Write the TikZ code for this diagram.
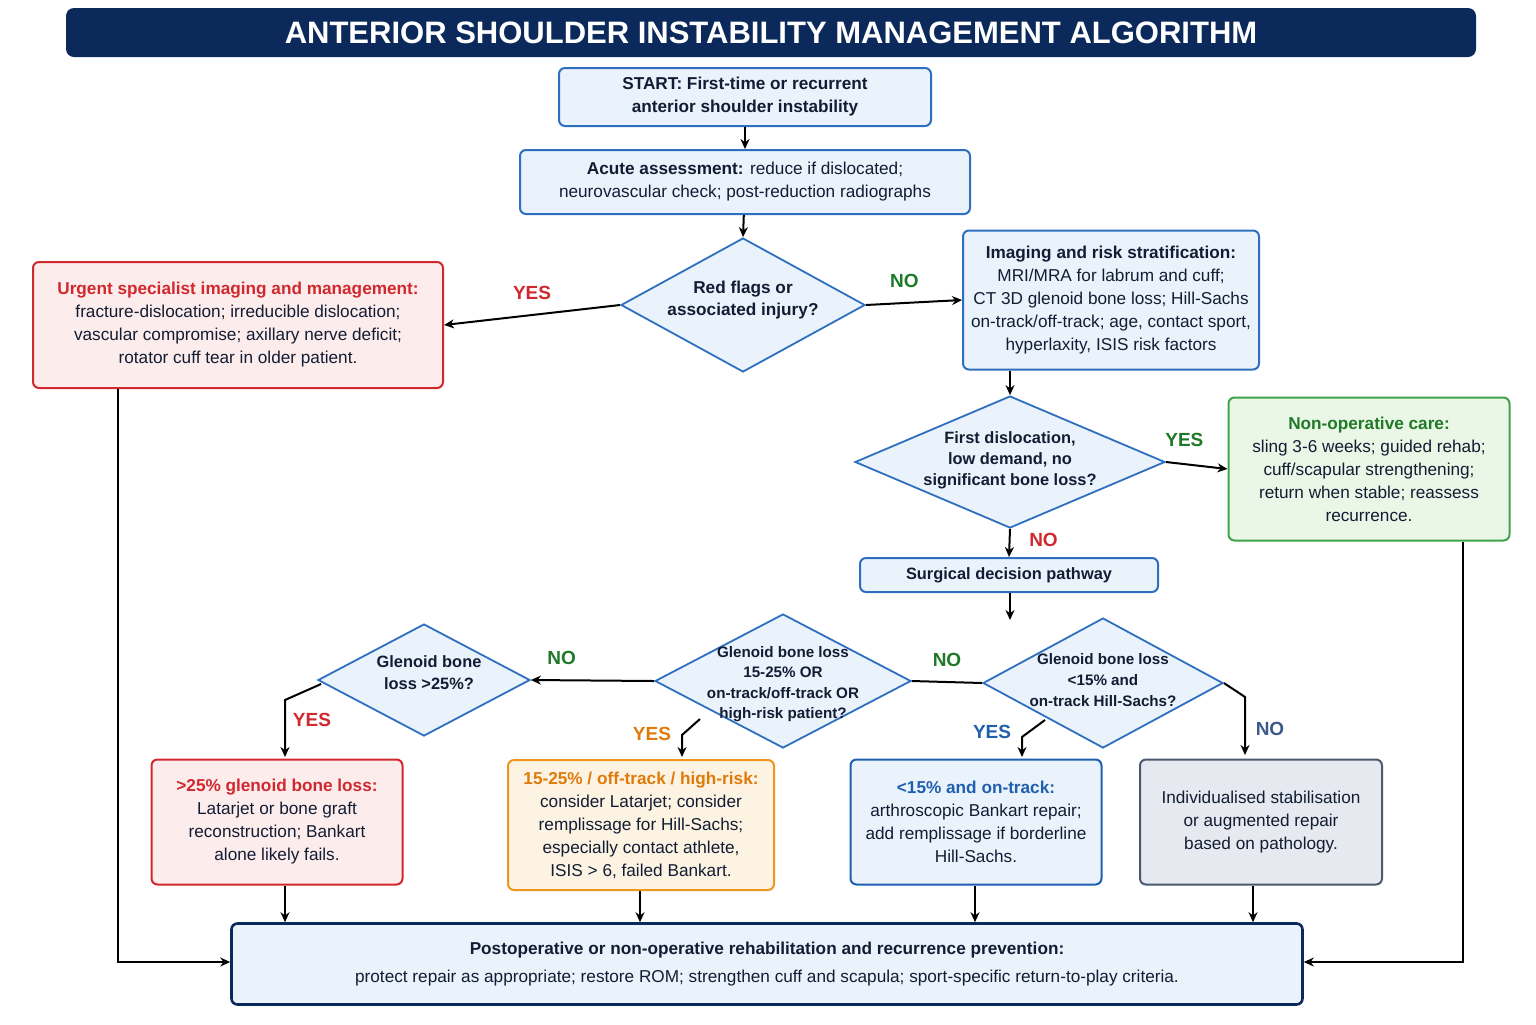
\documentclass[tikz,border=0pt]{standalone}
\usepackage{fontspec}
\setmainfont{Liberation Sans}
\usetikzlibrary{shapes.geometric,arrows.meta,calc}
\definecolor{navy}{HTML}{0B2A5B}
\definecolor{ink}{HTML}{121D33}
\definecolor{bfill}{HTML}{EAF3FC}
\definecolor{bline}{HTML}{2E6FC0}
\definecolor{rfill}{HTML}{FDECEC}
\definecolor{rline}{HTML}{D0282E}
\definecolor{gfill}{HTML}{EAF6E6}
\definecolor{gline}{HTML}{3FA34D}
\definecolor{gtext}{HTML}{1E7A26}
\definecolor{ofill}{HTML}{FDF3E3}
\definecolor{oline}{HTML}{F0961E}
\definecolor{otext}{HTML}{E07A0A}
\definecolor{dblue}{HTML}{1F5FAF}
\definecolor{grfill}{HTML}{E6E9EF}
\definecolor{grline}{HTML}{4A5870}
\definecolor{nolab}{HTML}{3A5A8A}
\begin{document}
\begin{tikzpicture}[x=0.5pt,y=-0.5pt,
  box/.style={rectangle,rounded corners=3pt,line width=1pt,draw=bline,fill=bfill,align=center,text=ink,font=\fontsize{8.6}{11.5}\selectfont,inner sep=2pt},
  dia/.style={diamond,draw=bline,fill=bfill,line width=0.9pt,inner sep=0pt},
  dtxt/.style={align=center,text=ink,font=\fontsize{8.6}{11}\selectfont\bfseries},
  stxt/.style={align=center,text=ink,font=\fontsize{7.6}{10.3}\selectfont\bfseries},
  arr/.style={line width=1pt,-{Stealth[length=5pt,width=4.5pt]},draw=black},
  ln/.style={line width=1pt,draw=black},
  lab/.style={font=\fontsize{9.5}{11}\selectfont\bfseries}]
\useasboundingbox (0,0) rectangle (1536,1024);
\fill[white] (0,0) rectangle (1536,1024);
\node[rectangle,rounded corners=4pt,fill=navy,minimum width=705pt,minimum height=24.5pt,text=white,font=\fontsize{15.5}{18}\selectfont\bfseries] (title) at (771,32.5) {ANTERIOR SHOULDER INSTABILITY MANAGEMENT ALGORITHM};

\node[box,minimum width=186pt,minimum height=29pt,font=\fontsize{8.6}{11.5}\selectfont\bfseries] (start) at (745,97) {START: First-time or recurrent\\anterior shoulder instability};
\node[box,minimum width=225pt,minimum height=32pt] (acute) at (745,182) {\textbf{Acute assessment:} reduce if dislocated;\\neurovascular check; post-reduction radiographs};
\node[dia,minimum width=122pt,minimum height=67pt] (d1) at (743,305) {};
\node[dtxt] at (743,300) {Red flags or\\associated injury?};
\node[box,draw=rline,fill=rfill,minimum width=205pt,minimum height=63pt] (urg) at (238,325) {\textcolor{rline}{\textbf{Urgent specialist imaging and management:}}\\fracture-dislocation; irreducible dislocation;\\vascular compromise; axillary nerve deficit;\\rotator cuff tear in older patient.};
\node[box,minimum width=148pt,minimum height=69.5pt] (img) at (1111,300) {\textbf{Imaging and risk stratification:}\\MRI/MRA for labrum and cuff;\\CT 3D glenoid bone loss; Hill-Sachs\\on-track/off-track; age, contact sport,\\hyperlaxity, ISIS risk factors};
\node[dia,minimum width=155pt,minimum height=66pt] (d5) at (1010,462) {};
\node[stxt,font=\fontsize{8.2}{10.5}\selectfont\bfseries] at (1010,460) {First dislocation,\\low demand, no\\significant bone loss?};
\node[box,draw=gline,fill=gfill,minimum width=140.5pt,minimum height=71.5pt] (nonop) at (1369,469) {\textcolor{gtext}{\textbf{Non-operative care:}}\\sling 3-6 weeks; guided rehab;\\cuff/scapular strengthening;\\return when stable; reassess\\recurrence.};
\node[box,minimum width=149pt,minimum height=17pt,font=\fontsize{8.2}{10}\selectfont\bfseries] (surg) at (1009,575) {Surgical decision pathway};
\coordinate (sg) at (1010,620);
\node[dia,minimum width=128pt,minimum height=67pt] (d3) at (783,681) {};
\node[stxt] at (783,684) {Glenoid bone loss\\15-25\% OR\\on-track/off-track OR\\high-risk patient?};
\node[dia,minimum width=106pt,minimum height=56pt] (d2) at (424,680) {};
\node[dtxt,font=\fontsize{8.2}{11}\selectfont\bfseries] at (429,673) {Glenoid bone\\loss >25\%?};
\node[dia,minimum width=120pt,minimum height=65pt] (d4) at (1103,683) {};
\node[stxt] at (1103,680) {Glenoid bone loss\\<15\% and\\on-track Hill-Sachs?};

\node[box,draw=rline,fill=rfill,minimum width=125.5pt,minimum height=62.5pt] (b1) at (277,822) {\textcolor{rline}{\textbf{>25\% glenoid bone loss:}}\\Latarjet or bone graft\\reconstruction; Bankart\\alone likely fails.};
\node[box,draw=oline,fill=ofill,minimum width=133pt,minimum height=65pt] (b2) at (641,825) {\textcolor{otext}{\textbf{15-25\% / off-track / high-risk:}}\\consider Latarjet; consider\\remplissage for Hill-Sachs;\\especially contact athlete,\\ISIS > 6, failed Bankart.};
\node[box,draw=dblue,minimum width=125.5pt,minimum height=62.5pt] (b3) at (976,822) {\textcolor{dblue}{\textbf{<15\% and on-track:}}\\arthroscopic Bankart repair;\\add remplissage if borderline\\Hill-Sachs.};
\node[box,draw=grline,fill=grfill,minimum width=121pt,minimum height=62.5pt] (b4) at (1261,822) {Individualised stabilisation\\or augmented repair\\based on pathology.};
\node[box,draw=navy,line width=1.3pt,minimum width=535.5pt,minimum height=40.5pt,font=\fontsize{8.6}{14}\selectfont] (post) at (767,964) {\textbf{Postoperative or non-operative rehabilitation and recurrence prevention:}\\protect repair as appropriate; restore ROM; strengthen cuff and scapula; sport-specific return-to-play criteria.};

\coordinate (xl) at (118,962);
\coordinate (xr) at (1463,962);
\coordinate (x1) at (285,0);
\coordinate (x2) at (640,0);
\coordinate (x3) at (975,0);
\coordinate (x4) at (1253,0);

\draw[arr] (start) -- (acute);
\draw[arr] (acute) -- (d1.north);
\draw[arr] (d1.west) -- (urg.east) node[lab,text=rline,pos=0.5,above=4pt] {YES};
\draw[arr] (d1.east) -- (img.west) node[lab,text=gtext,pos=0.4,above=4pt] {NO};
\draw[arr] (img.south -| d5.north) -- (d5.north);
\draw[arr] (d5.east) -- (nonop.west) node[lab,text=gtext,pos=0.3,above=5pt] {YES};
\draw[arr] (d5.south) -- (surg.north) node[lab,text=rline,pos=0.4,right=6pt] {NO};
\draw[arr] (surg.south -| sg) -- (sg);
\draw[arr] (d3.west) -- (d2.east) node[lab,text=gtext,pos=0.75,above=4pt] {NO};
\draw[ln] (d3.east) -- (d4.west) node[lab,text=gtext,pos=0.5,above=4pt] {NO};
\draw[arr] ($(d2.west)+(4,4)$) -- (285,700) -- (285,757);
\node[lab,text=rline] at (312,720) {YES};
\draw[arr] ($(d3.center)+(-83,38)$) -- (682,735) -- (682,757);
\node[lab,text=otext] at (652,734) {YES};
\draw[arr] ($(d4.center)+(-58,37)$) -- (1022,737) -- (1022,757);
\node[lab,text=dblue] at (992,732) {YES};
\draw[arr] (d4.east) -- (1245,697) -- (1245,755);
\node[lab,text=nolab] at (1270,729) {NO};
\draw[arr] (urg.south -| xl) -- (xl) -- (post.west |- xl);
\draw[arr] (nonop.south -| xr) -- (xr) -- (post.east |- xr);
\draw[arr] (b1.south -| x1) -- (post.north -| x1);
\draw[arr] (b2.south -| x2) -- (post.north -| x2);
\draw[arr] (b3.south -| x3) -- (post.north -| x3);
\draw[arr] (b4.south -| x4) -- (post.north -| x4);
\end{tikzpicture}
\end{document}
